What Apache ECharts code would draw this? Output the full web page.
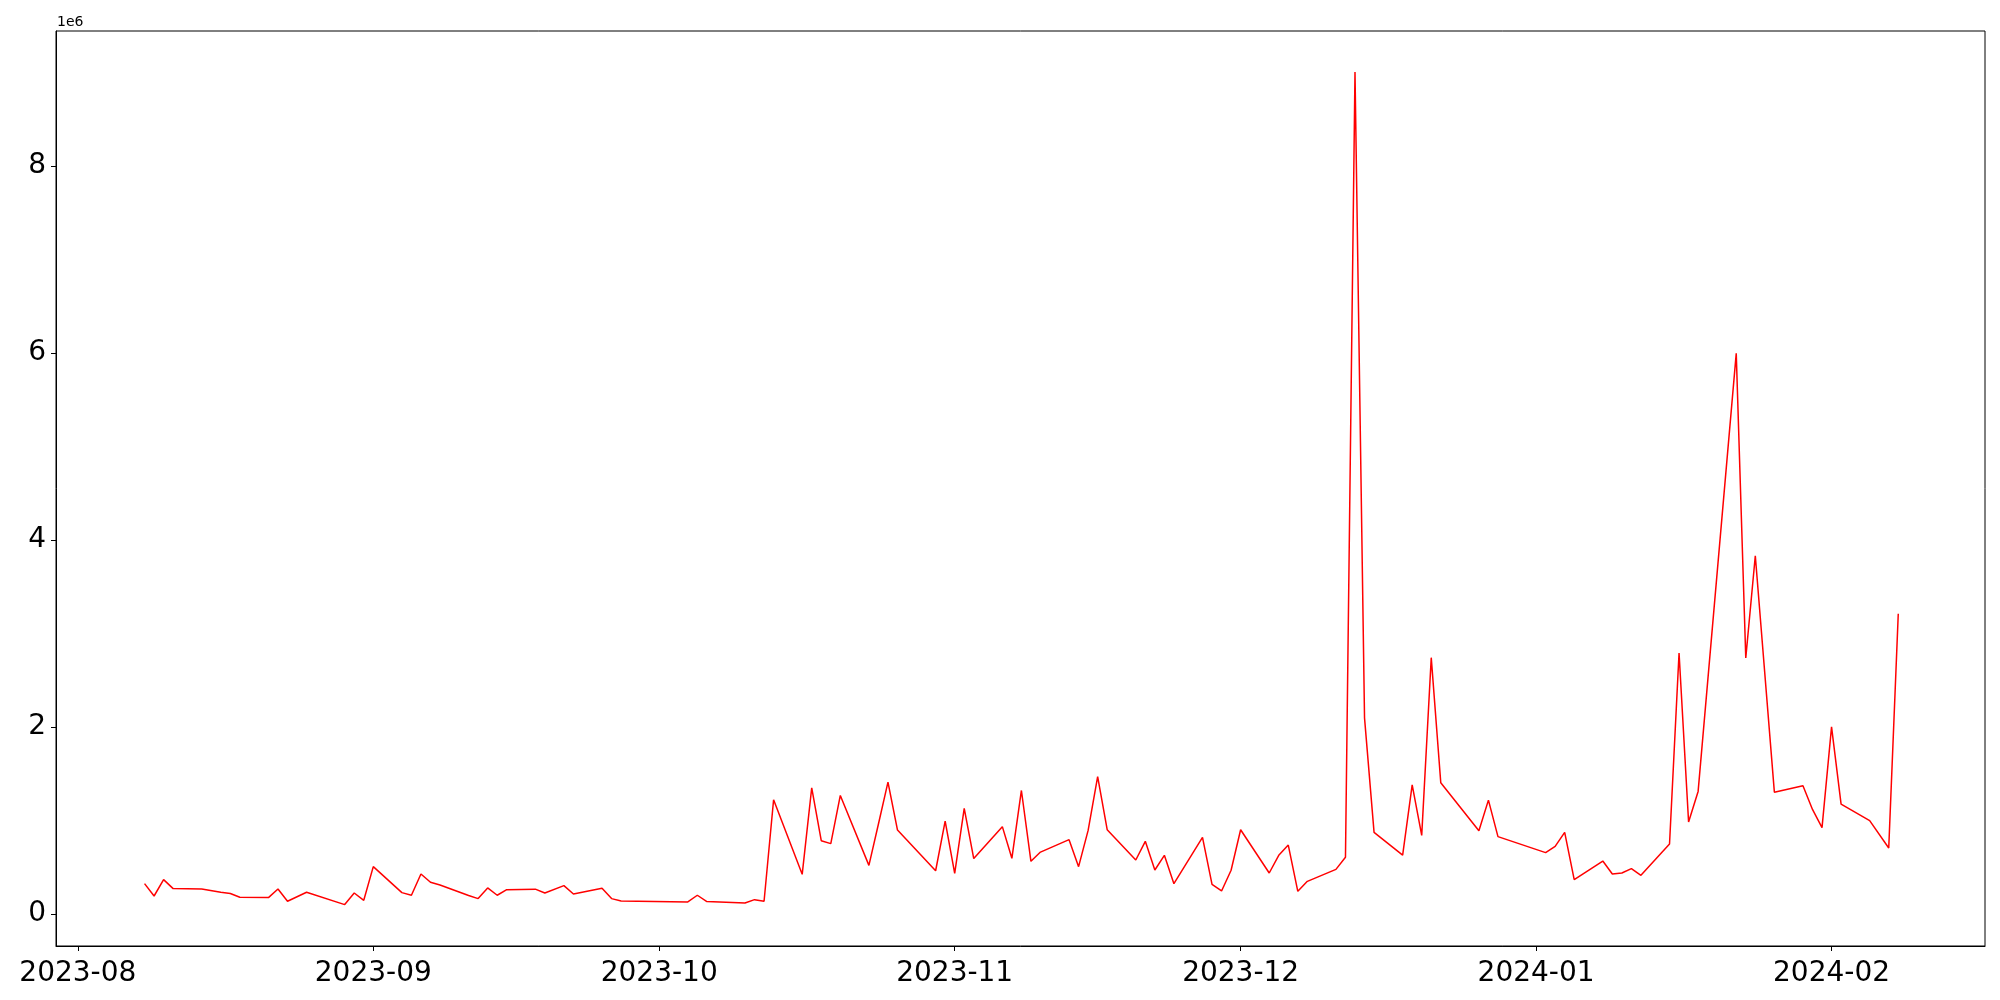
<!DOCTYPE html>
<html>
<head>
<meta charset="utf-8">
<script src="https://cdn.jsdelivr.net/npm/echarts@6/dist/echarts.min.js"></script>
<style>
html,body{margin:0;padding:0;background:#fff;}
#chart{width:2000px;height:1000px;}
</style>
</head>
<body>
<div id="chart"></div>
<script>
// ---- data ----
const dates = [
'2023-08-08','2023-08-09','2023-08-10','2023-08-11','2023-08-14','2023-08-16','2023-08-17','2023-08-18',
'2023-08-21','2023-08-22','2023-08-23','2023-08-25','2023-08-29','2023-08-30','2023-08-31','2023-09-01',
'2023-09-04','2023-09-05','2023-09-06','2023-09-07','2023-09-08','2023-09-11','2023-09-12','2023-09-13',
'2023-09-14','2023-09-15','2023-09-18','2023-09-19','2023-09-21','2023-09-22','2023-09-25','2023-09-26',
'2023-09-27','2023-10-04','2023-10-05','2023-10-06','2023-10-10','2023-10-11','2023-10-12','2023-10-13',
'2023-10-16','2023-10-17','2023-10-18','2023-10-19','2023-10-20','2023-10-23','2023-10-24','2023-10-25',
'2023-10-26','2023-10-30','2023-10-31','2023-11-01','2023-11-02','2023-11-03','2023-11-06','2023-11-07',
'2023-11-08','2023-11-09','2023-11-10','2023-11-13','2023-11-14','2023-11-15','2023-11-16','2023-11-17',
'2023-11-20','2023-11-21','2023-11-22','2023-11-23','2023-11-24','2023-11-27','2023-11-28','2023-11-29',
'2023-11-30','2023-12-01','2023-12-04','2023-12-05','2023-12-06','2023-12-07','2023-12-08','2023-12-11',
'2023-12-12','2023-12-13','2023-12-14','2023-12-15','2023-12-18','2023-12-19','2023-12-20','2023-12-21',
'2023-12-22','2023-12-26','2023-12-27','2023-12-28','2024-01-02','2024-01-03','2024-01-04','2024-01-05',
'2024-01-08','2024-01-09','2024-01-10','2024-01-11','2024-01-12','2024-01-15','2024-01-16','2024-01-17',
'2024-01-18','2024-01-22','2024-01-23','2024-01-24','2024-01-26','2024-01-29','2024-01-30','2024-01-31',
'2024-02-01','2024-02-02','2024-02-05','2024-02-07','2024-02-08'
];
const values = [
322000,190000,365000,269000,265000,230000,216000,176000,
173000,265000,134000,230000,98000,222000,144000,504000,
226000,198000,425000,337000,308000,195000,162000,276000,
198000,258000,263000,222000,301000,212000,272000,162000,
137000,126000,198000,130000,115000,151000,134000,1220000,
422000,1348000,782000,750000,1266000,518000,960000,1408000,
895000,460000,990000,433000,1127000,590000,932000,593000,
1319000,561000,660000,793000,504000,892000,1466000,899000,
575000,775000,468000,625000,322000,817000,315000,244000,
465000,899000,436000,625000,735000,240000,347000,475000,
604000,9007000,2096000,871000,628000,1380000,839000,2740000,
1401000,889000,1216000,825000,654000,721000,871000,365000,
564000,425000,436000,483000,411000,746000,2790000,981000,
1309000,5996000,2737000,3830000,1301000,1370000,1116000,921000,
2000000,1173000,996000,703000,3210000
];
const yTicks = [0, 2000000, 4000000, 6000000, 8000000];
const xTickLabels = ['2023-08','2023-09','2023-10','2023-11','2023-12','2024-01','2024-02'];

// ---- chart ----
const DAY = 86400000;
function toTs(s) { const p = s.split('-').map(Number); return Date.UTC(p[0], p[1] - 1, p[2] || 1); }
const xTicks = xTickLabels.map(toTs);
const seriesData = dates.map((d, i) => [toTs(d), values[i]]);
const xMin = xTicks[0] - 2.29 * DAY;
const xMax = xTicks[0] + 200.1 * DAY;

const chart = echarts.init(document.getElementById('chart'), null, {renderer: 'canvas'});
chart.setOption({
  animation: false,
  backgroundColor: '#fff',
  textStyle: {fontFamily: 'DejaVu Sans'},
  grid: {left: 56, right: 15, top: 31, bottom: 54, show: true, borderColor: '#000', borderWidth: 1, backgroundColor: 'transparent'},
  xAxis: {
    type: 'value',
    min: xMin,
    max: xMax,
    axisLine: {show: true, onZero: false, lineStyle: {color: '#000', width: 1}},
    axisTick: {show: true, inside: false, length: 5, lineStyle: {color: '#000', width: 1}, customValues: xTicks},
    axisLabel: {
      show: true, color: '#000', fontSize: 28, fontFamily: 'DejaVu Sans', margin: 14,
      customValues: xTicks,
      hideOverlap: false,
      formatter: function (v) { let best = 0; for (let i = 1; i < xTicks.length; i++) { if (Math.abs(xTicks[i] - v) < Math.abs(xTicks[best] - v)) best = i; } return xTickLabels[best]; }
    },
    splitLine: {show: false}
  },
  yAxis: {
    type: 'value',
    min: -345000,
    max: 9445000,
    axisLine: {show: true, lineStyle: {color: '#000', width: 1}},
    axisTick: {show: true, inside: false, length: 5, lineStyle: {color: '#000', width: 1}, customValues: yTicks},
    axisLabel: {
      show: true, color: '#000', fontSize: 28, fontFamily: 'DejaVu Sans', margin: 10,
      customValues: yTicks,
      formatter: function (v) { return String(Math.round(v / 1e6)); }
    },
    splitLine: {show: false}
  },
  graphic: [{
    type: 'text', left: 57, top: 15,
    style: {text: '1e6', fontSize: 14, fontFamily: 'DejaVu Sans', fill: '#000'}
  }],
  series: [{
    type: 'line',
    data: seriesData,
    showSymbol: false,
    symbol: 'none',
    lineStyle: {color: '#ff0000', width: 1.5},
    itemStyle: {color: '#ff0000'},
    clip: true
  }]
});
</script>
</body>
</html>
